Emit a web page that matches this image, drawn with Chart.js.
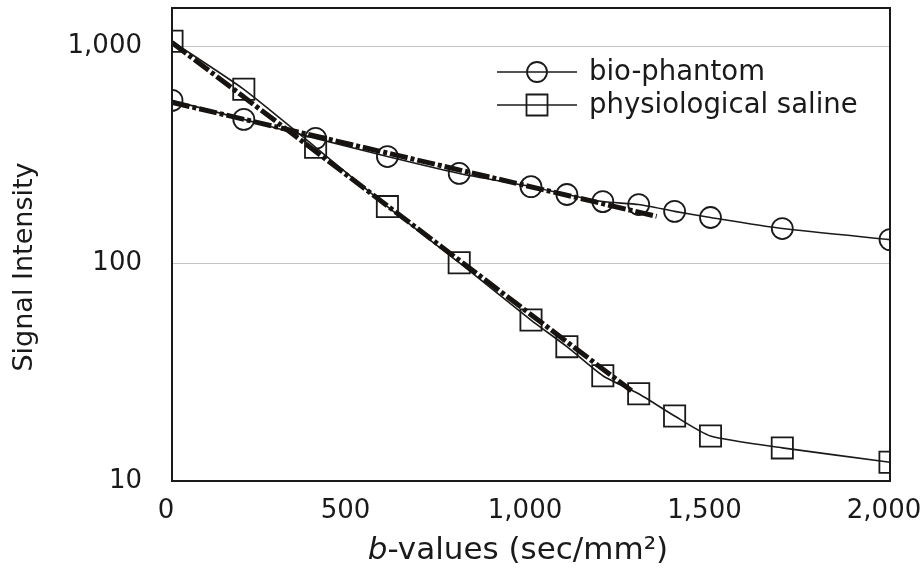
<!DOCTYPE html>
<html>
<head>
<meta charset="utf-8">
<script src="https://cdn.jsdelivr.net/npm/chart.js@4.4.0/dist/chart.umd.min.js"></script>
<style>
  html, body { margin: 0; padding: 0; background: #fff; }
  #wrap { width: 923px; height: 574px; }
</style>
</head>
<body>
<div id="wrap"><canvas id="chart"></canvas></div>
<script>
// b-values (sec/mm2)
const bValues = [0, 200, 400, 600, 800, 1000, 1100, 1200, 1300, 1400, 1500, 1700, 2000];
const bioPhantom = [564, 461, 377, 311, 260, 226, 208, 193, 187, 174, 163, 145, 129];
const saline = [1054, 634, 343, 183, 101, 55, 41.5, 30.5, 25.2, 19.9, 16.1, 14.2, 12.2];

// fitted lines (start / end)
const bioFitB = [0, 1350];
const bioFit = [552, 165];
const salineFitB = [0, 1280];
const salineFit = [1040, 26];

const xTicks = [0, 500, 1000, 1500, 2000];
const yTicks = [10, 100, 1000];
const seriesNames = ['bio-phantom', 'physiological saline'];

const FONT = 'DejaVu Sans';
const INK = '#1a1a1a';
const FIT = '#161310';

const toXY = (xs, ys) => xs.map((x, i) => ({ x: x, y: ys[i] }));

// frame, legend and axis titles
const decorPlugin = {
    id: 'decor',
    afterDraw(chart) {
        const { ctx, chartArea: a } = chart;
        ctx.save();
        ctx.strokeStyle = INK;
        ctx.lineWidth = 2;
        ctx.strokeRect(a.left, a.top, a.right - a.left, a.bottom - a.top);

        // legend (inside plot, top right)
        const rows = [{ y: 72, style: 'circle' }, { y: 105, style: 'rect' }];
        ctx.font = '27.5px "' + FONT + '"';
        ctx.textBaseline = 'middle';
        ctx.fillStyle = INK;
        rows.forEach((r, i) => {
            ctx.lineWidth = 1.6;
            ctx.beginPath();
            ctx.moveTo(497, r.y);
            ctx.lineTo(577, r.y);
            ctx.stroke();
            ctx.lineWidth = 1.8;
            ctx.beginPath();
            if (r.style === 'circle') {
                ctx.arc(537, r.y, 10, 0, Math.PI * 2);
            } else {
                ctx.rect(537 - 10.5, r.y - 10.5, 21, 21);
            }
            ctx.stroke();
            ctx.textAlign = 'left';
            ctx.fillText(seriesNames[i], 589, r.y + 1);
        });

        // y title
        ctx.save();
        ctx.translate(25, 267);
        ctx.rotate(-Math.PI / 2);
        ctx.textAlign = 'center';
        ctx.font = '27px "' + FONT + '"';
        ctx.fillText('Signal Intensity', 0, 0);
        ctx.restore();

        // x title with italic b
        const cx = 518;
        const ty = 551;
        const rest = '-values (sec/mm\u00B2)';
        ctx.font = 'italic 31px "' + FONT + '"';
        const wb = ctx.measureText('b').width;
        ctx.font = '31px "' + FONT + '"';
        const wr = ctx.measureText(rest).width;
        let x0 = cx - (wb + wr) / 2;
        ctx.textAlign = 'left';
        ctx.font = 'italic 31px "' + FONT + '"';
        ctx.fillText('b', x0, ty);
        ctx.font = '31px "' + FONT + '"';
        ctx.fillText(rest, x0 + wb, ty);
        ctx.restore();
    }
};

const ctx = document.getElementById('chart').getContext('2d');
new Chart(ctx, {
    type: 'line',
    data: {
        datasets: [
            {
                label: 'bio-phantom fit',
                data: toXY(bioFitB, bioFit),
                borderColor: FIT,
                borderWidth: 5,
                borderDash: [18, 3, 4, 3],
                pointRadius: 0,
                fill: false
            },
            {
                label: 'saline fit',
                data: toXY(salineFitB, salineFit),
                borderColor: FIT,
                borderWidth: 5,
                borderDash: [18, 3, 4, 3],
                pointRadius: 0,
                fill: false
            },
            {
                label: seriesNames[0],
                data: toXY(bValues, bioPhantom),
                borderColor: INK,
                borderWidth: 1.6,
                pointStyle: 'circle',
                pointRadius: 10.5,
                pointBorderWidth: 1.8,
                pointBorderColor: INK,
                pointBackgroundColor: 'rgba(0,0,0,0)',
                tension: 0.2,
                fill: false
            },
            {
                label: seriesNames[1],
                data: toXY(bValues, saline),
                borderColor: INK,
                borderWidth: 1.6,
                pointStyle: 'rect',
                pointRadius: 15,
                pointBorderWidth: 1.8,
                pointBorderColor: INK,
                pointBackgroundColor: 'rgba(0,0,0,0)',
                tension: 0.2,
                fill: false
            }
        ]
    },
    options: {
        responsive: true,
        maintainAspectRatio: false,
        animation: false,
        layout: { autoPadding: false, padding: { top: 8, right: 33, left: 0, bottom: 0 } },
        plugins: {
            legend: { display: false },
            tooltip: { enabled: false }
        },
        scales: {
            x: {
                type: 'linear',
                min: 0,
                max: 2000,
                afterBuildTicks: (s) => { s.ticks = xTicks.map(v => ({ value: v })); },
                afterFit: (s) => { s.height = 93; s.paddingLeft = 0; s.paddingRight = 0; },
                grid: { display: false },
                border: { display: false },
                ticks: {
                    color: INK,
                    padding: 7,
                    labelOffset: -6,
                    maxRotation: 0,
                    font: { family: FONT, size: 26 },
                    callback: (v) => v.toLocaleString('en-US')
                }
            },
            y: {
                type: 'logarithmic',
                min: 10,
                max: 1500,
                afterBuildTicks: (s) => { s.ticks = yTicks.map(v => ({ value: v })); },
                afterFit: (s) => { s.width = 172; s.paddingTop = 0; s.paddingBottom = 0; },
                grid: { color: '#c4c4c4', lineWidth: 1, drawTicks: false },
                border: { display: false },
                ticks: {
                    color: INK,
                    padding: 30,
                    font: { family: FONT, size: 26 },
                    callback: (v) => v.toLocaleString('en-US')
                }
            }
        }
    },
    plugins: [decorPlugin]
});
</script>
</body>
</html>
